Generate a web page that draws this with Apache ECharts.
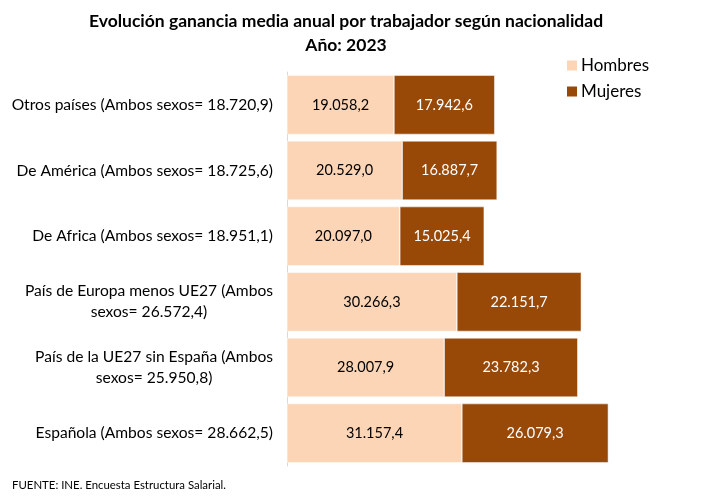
<!doctype html>
<html lang="es">
<head>
  <meta charset="UTF-8">
  <script src="https://cdn.jsdelivr.net/npm/echarts@6/dist/echarts.min.js"></script>
  <title>Ganancia media anual por nacionalidad</title>
  <style type="text/css">
    html, body {
      width: 100%;
      height: 100%;
      margin: 0;
      padding: 0;
      background-color: #ffffff;
    }

    #canvas {
      width: 710px;
      height: 499px;
    }
  </style>
</head>

<body>
<div id="canvas"></div>

<script type="text/javascript">
  // bottom to top, as the category axis draws them
  const categories = [
    'Española (Ambos sexos= 28.662,5)',
    'País de la UE27 sin España (Ambos\nsexos= 25.950,8)',
    'País de Europa menos UE27 (Ambos\nsexos= 26.572,4)',
    'De Africa (Ambos sexos= 18.951,1)',
    'De América (Ambos sexos= 18.725,6)',
    'Otros países (Ambos sexos= 18.720,9)'
  ]
  const hombres = [31157.4, 28007.9, 30266.3, 20097.0, 20529.0, 19058.2]
  const mujeres = [26079.3, 23782.3, 22151.7, 15025.4, 16887.7, 17942.6]

  const font = 'Lato, "Open Sans", sans-serif'

  const fmt = v => {
    const parts = v.toFixed(1).split('.')
    return parts[0].replace(/\B(?=(\d{3})+(?!\d))/g, '.') + ',' + parts[1]
  }

  const chart = echarts.init(document.getElementById('canvas'))

  chart.setOption({
    animation: false,
    textStyle: { fontFamily: font },
    title: {
      text: 'Evolución ganancia media anual por trabajador según nacionalidad\nAño: 2023',
      left: 341,
      top: 4,
      textAlign: 'center',
      textStyle: {
        fontFamily: font,
        fontSize: 17.5,
        fontWeight: 'bold',
        color: '#000000',
        lineHeight: 24,
        align: 'center'
      }
    },
    graphic: [
      {
        type: 'text',
        left: 12,
        top: 480,
        style: {
          text: 'FUENTE: INE. Encuesta Estructura Salarial.',
          fontFamily: font,
          fontSize: 11.4,
          fill: '#000000'
        }
      }
    ],
    legend: {
      orient: 'vertical',
      left: 560,
      top: 52,
      itemWidth: 12,
      itemHeight: 12,
      itemGap: 9,
      icon: 'rect',
      textStyle: { fontFamily: font, fontSize: 17, color: '#000000', padding: [0, 0, 0, -2] },
      data: ['Hombres', 'Mujeres']
    },
    grid: {
      left: 287,
      top: 72,
      width: 393,
      bottom: 33,
      containLabel: false
    },
    xAxis: {
      type: 'value',
      min: 0,
      max: 70000,
      show: false
    },
    yAxis: {
      type: 'category',
      data: categories,
      axisTick: { show: false },
      axisLine: { show: true, lineStyle: { color: '#d9d9d9', width: 1 } },
      axisLabel: {
        margin: 14,
        align: 'right',
        color: '#000000',
        fontFamily: font,
        fontSize: 15.6,
        lineHeight: 21,
        formatter: value => value.split('\n').map(s => '{a|' + s + '}').join('\n'),
        rich: {
          a: { align: 'center', fontFamily: font, fontSize: 15.6, lineHeight: 21, color: '#000000' }
        }
      }
    },
    series: [
      {
        name: 'Hombres',
        type: 'bar',
        stack: 'total',
        barCategoryGap: '10%',
        data: hombres,
        itemStyle: { color: '#fbd5b5', borderColor: '#ffffff', borderWidth: 0.5 },
        label: {
          show: true,
          position: 'inside',
          color: '#000000',
          fontFamily: font,
          fontSize: 14.5,
          formatter: p => fmt(p.value)
        }
      },
      {
        name: 'Mujeres',
        type: 'bar',
        stack: 'total',
        barCategoryGap: '10%',
        data: mujeres,
        itemStyle: { color: '#984807', borderColor: '#ffffff', borderWidth: 0.5 },
        label: {
          show: true,
          position: 'inside',
          color: '#ffffff',
          fontFamily: font,
          fontSize: 14.5,
          formatter: p => fmt(p.value)
        }
      }
    ]
  })
</script>
</body>
</html>
